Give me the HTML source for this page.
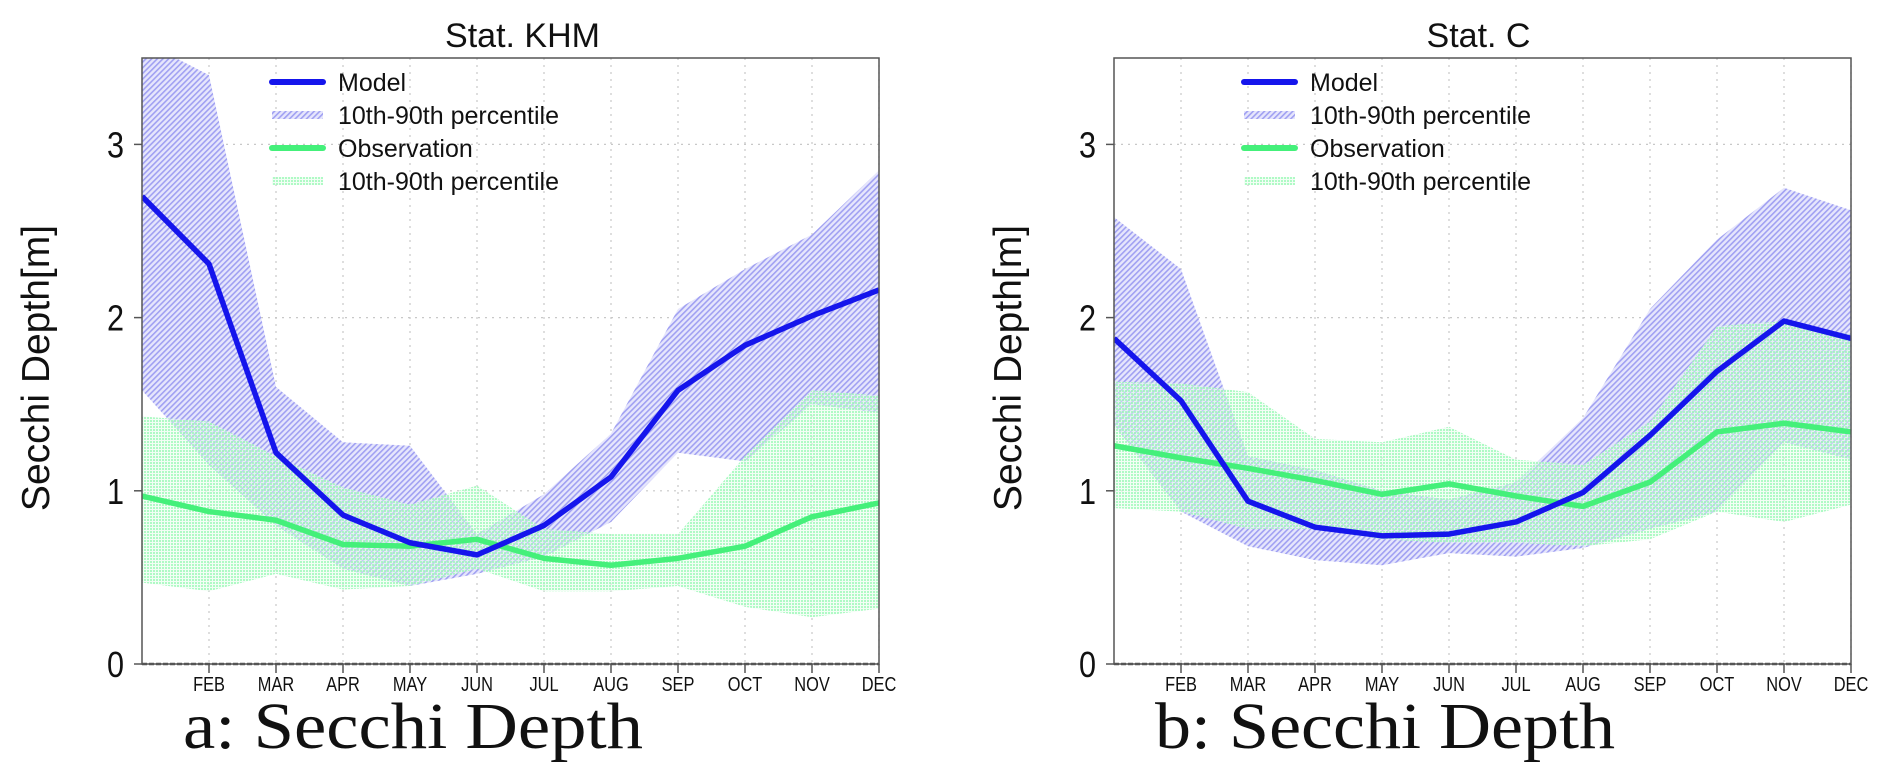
<!DOCTYPE html>
<html><head><meta charset="utf-8">
<style>
html,body{margin:0;padding:0;background:#fff;}
svg{display:block;}
text{font-family:"Liberation Sans",sans-serif;fill:#111;}
.cap{font-family:"Liberation Serif",serif;}
</style></head>
<body>
<svg id="chart" width="1892" height="776" viewBox="0 0 1892 776" xmlns="http://www.w3.org/2000/svg">
<defs>
<pattern id="hatch" patternUnits="userSpaceOnUse" width="4" height="4" patternTransform="rotate(-45)">
<rect width="4" height="4" fill="#e6e6fc"/>
<rect width="4" height="1.6" fill="#a0a0f2"/>
</pattern>
<pattern id="dots" patternUnits="userSpaceOnUse" width="3" height="3">
<rect width="3" height="3" fill="#e6fdec" fill-opacity="0.5"/>
<rect width="2" height="2" fill="#98f8b4" fill-opacity="0.75"/>
</pattern>
<clipPath id="clipA"><rect x="142" y="58" width="737" height="606"/></clipPath>
<clipPath id="clipB"><rect x="1114" y="58" width="737" height="606"/></clipPath>
</defs>
</svg>
<script>
const months = ["JAN","FEB","MAR","APR","MAY","JUN","JUL","AUG","SEP","OCT","NOV","DEC"];
const yTicks = [0,1,2,3];
const khmModel = [2.70,2.31,1.22,0.86,0.70,0.63,0.80,1.08,1.58,1.84,2.01,2.16];
const khmModelHi = [3.60,3.40,1.60,1.28,1.26,0.75,0.98,1.33,2.05,2.28,2.48,2.85];
const khmModelLo = [1.58,1.15,0.80,0.55,0.45,0.52,0.62,0.82,1.22,1.17,1.50,1.45];
const khmObs = [0.97,0.88,0.83,0.69,0.68,0.72,0.61,0.57,0.61,0.68,0.85,0.93];
const khmObsHi = [1.43,1.40,1.20,1.02,0.92,1.03,0.78,0.75,0.75,1.20,1.58,1.55];
const khmObsLo = [0.47,0.42,0.52,0.43,0.45,0.55,0.42,0.42,0.45,0.33,0.27,0.32];
const cModel = [1.88,1.52,0.94,0.79,0.74,0.75,0.82,0.99,1.32,1.69,1.98,1.88];
const cModelHi = [2.58,2.28,1.20,1.12,1.00,0.95,1.05,1.42,2.05,2.45,2.75,2.62];
const cModelLo = [1.38,0.88,0.68,0.60,0.57,0.64,0.62,0.67,0.78,0.88,1.28,1.18];
const cObs = [1.26,1.19,1.13,1.06,0.98,1.04,0.97,0.91,1.05,1.34,1.39,1.34];
const cObsHi = [1.63,1.62,1.57,1.30,1.28,1.37,1.18,1.15,1.40,1.95,1.98,1.90];
const cObsLo = [0.90,0.88,0.78,0.78,0.72,0.70,0.70,0.68,0.72,0.88,0.82,0.92];

const NS="http://www.w3.org/2000/svg";
const svg=document.getElementById('chart');
function mk(tag,attrs,parent){const e=document.createElementNS(NS,tag);for(const k in attrs)e.setAttribute(k,attrs[k]);(parent||svg).appendChild(e);return e;}

function panel(id,left,title,caption,model,mHi,mLo,obs,oHi,oLo,titleShift){
  const W=737,top=58,bottom=664,yUnit=173.2;
  const xs=i=>left+i*W/11;
  const ys=v=>bottom-v*yUnit;
  const g=mk('g',{});
  
  
  for(let i=1;i<12;i++){const l=mk('line',{x1:xs(i),x2:xs(i),y1:top,y2:bottom,stroke:'#c8c8c8','stroke-width':1.2,'stroke-dasharray':'2,5'},g);
    }
  for(const t of yTicks){if(t===0)continue;const l=mk('line',{x1:left,x2:left+W,y1:ys(t),y2:ys(t),stroke:'#c8c8c8','stroke-width':1.2,'stroke-dasharray':'2,5'},g);
    }
  const clip=mk('g',{'clip-path':'url(#'+(id==='khm'?'clipA':'clipB')+')'},g);
  function band(hi,lo,fill,name){
    let d='M'+hi.map((v,i)=>xs(i)+','+ys(v)).join(' L');
    for(let i=lo.length-1;i>=0;i--)d+=' L'+xs(i)+','+ys(lo[i]);
    const p=mk('path',{d:d+'Z',fill:fill},clip);
    
  }
  function line(vals,color,name){
    const p=mk('polyline',{points:vals.map((v,i)=>xs(i)+','+ys(v)).join(' '),fill:'none',stroke:color,'stroke-width':5.5,'stroke-linejoin':'round'},clip);
    
  }
  band(mHi,mLo,'url(#hatch)','model-percentile-band');
  band(oHi,oLo,'url(#dots)','observation-percentile-band');
  line(obs,'#44f07a','observation-line');
  line(model,'#1515ec','model-line');
  const f=mk('rect',{x:left,y:top,width:W,height:bottom-top,fill:'none',stroke:'#555','stroke-width':1.5},g);
  
  mk('line',{x1:left,x2:left+W,y1:bottom,y2:bottom,stroke:'#555','stroke-width':2.5,'stroke-dasharray':'5,2'},g);
  for(const t of yTicks){
    mk('line',{x1:left-8,x2:left,y1:ys(t),y2:ys(t),stroke:'#555','stroke-width':1.5},g);
    const tx=mk('text',{x:0,y:0,'text-anchor':'end','font-size':36,transform:`translate(${left-18},${ys(t)+13}) scale(0.85,1)`},g);
    tx.textContent=t;
  }
  for(let i=1;i<12;i++){
    mk('line',{x1:xs(i),x2:xs(i),y1:bottom,y2:bottom+9,stroke:'#555','stroke-width':1.5},g);
    const tx=mk('text',{x:0,y:0,'text-anchor':'middle','font-size':20,transform:`translate(${xs(i)},${bottom+27}) scale(0.82,1)`},g);
    tx.textContent=months[i];
  }
  const tt=mk('text',{x:left+W/2+titleShift,y:47,'text-anchor':'middle','font-size':34},g);
  tt.textContent=title;
  const yl=mk('text',{x:0,y:0,'text-anchor':'middle','font-size':39,transform:`translate(${left-93},${368}) rotate(-90)`},g);
  yl.textContent='Secchi Depth[m]';
  const cp=mk('text',{x:left+271,y:748,'text-anchor':'middle','font-size':66,'class':'cap',textLength:460,lengthAdjust:'spacingAndGlyphs'},g);
  cp.textContent=caption;
  const lx=left+130;const rows=[82,115,148,181];
  const lg=mk('g',{},g);
  const items=[['Model','line','#1515ec'],['10th-90th percentile','band','url(#hatch)'],['Observation','line','#44f07a'],['10th-90th percentile','band','url(#dots)']];
  items.forEach((it,k)=>{
    const e=mk('g',{},lg);
    if(it[1]==='line')mk('line',{x1:lx,x2:lx+51,y1:rows[k],y2:rows[k],stroke:it[2],'stroke-width':6,'stroke-linecap':'round'},e);
    else mk('rect',{x:lx,y:rows[k]-4,width:51,height:8,fill:it[2]},e);
    const t=mk('text',{x:lx+66,y:rows[k]+9,'font-size':25},e);t.textContent=it[0];
  });
}
panel('khm',142,'Stat. KHM','a: Secchi Depth',khmModel,khmModelHi,khmModelLo,khmObs,khmObsHi,khmObsLo,12);
panel('c',1114,'Stat. C','b: Secchi Depth',cModel,cModelHi,cModelLo,cObs,cObsHi,cObsLo,-4);
</script>
</body></html>
